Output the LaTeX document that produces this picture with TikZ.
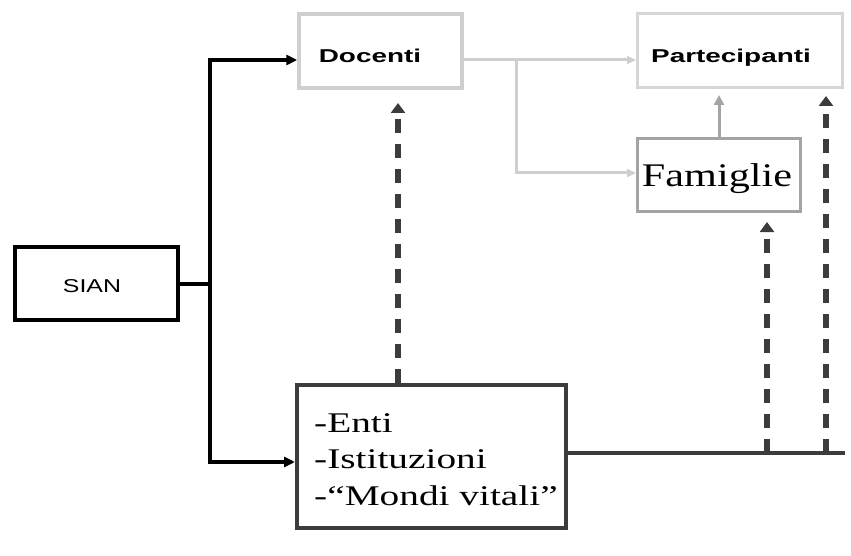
\documentclass[tikz,border=0pt]{standalone}
\usepackage{fontspec}
\usetikzlibrary{arrows.meta,calc}
\newfontfamily\wideBold[FakeStretch=1.5]{Liberation Sans Bold}
\newfontfamily\plainSans{Liberation Sans}
\newfontfamily\wideSerif[FakeStretch=1.38]{Liberation Serif}
\newfontfamily\famSerif[FakeStretch=1.28]{Liberation Serif}
\definecolor{paleline}{HTML}{CFCFCF}
\definecolor{midline}{HTML}{A4A4A4}
\definecolor{darkline}{HTML}{3C3C3C}
\tikzset{
  box/.style={draw, rectangle, inner sep=0pt, fill=white},
  txt/.style={inner sep=0pt, anchor=base},
  topbox/.style={box, draw=paleline, line width=3.5pt},
  topfont/.style={txt, font=\wideBold\fontsize{18.6}{22}\selectfont},
  fambox/.style={box, draw=midline, line width=3pt},
  famfont/.style={txt, font=\famSerif\fontsize{33}{38}\selectfont},
  sianbox/.style={box, draw=black, line width=4pt},
  sianfont/.style={txt, font=\plainSans\fontsize{18.6}{22}\selectfont},
  entibox/.style={box, draw=darkline, line width=4pt},
  entifont/.style={txt, anchor=base west, font=\wideSerif\fontsize{28.5}{37}\selectfont},
  feed/.style={draw=black, line width=3.5pt,
    -{Triangle[length=11pt,width=10pt]}},
  paleflow/.style={draw=paleline, line width=3pt,
    -{Triangle[length=9pt,width=8pt]}},
  midflow/.style={draw=midline, line width=3pt,
    -{Triangle[length=10pt,width=10pt]}},
  support/.style={draw=darkline, line width=5.5pt, dash pattern=on 14pt off 11pt,
    -{Triangle[length=10pt,width=14pt]}},
  baseline/.style={draw=darkline, line width=3.5pt},
}
\begin{document}
\begin{tikzpicture}[x=1pt,y=-1pt]
\useasboundingbox (0,0) rectangle (851,556);

% boxes
\node[topbox, minimum width=163, minimum height=74] (docenti) at (380.5,51) {};
\node[topbox, draw=paleline!85, line width=3pt, minimum width=205, minimum height=74] (partecipanti) at (740,50.5) {};
\node[fambox, minimum width=163, minimum height=73] (famiglie) at (719,175) {};
\node[sianbox, minimum width=163, minimum height=73] (sian) at (96.5,283.5) {};
\node[entibox, minimum width=269, minimum height=143] (enti) at (431.5,456.5) {};

% box texts
\node[topfont] (docentiT) at ($(docenti.center)+(-10.5,12)$) {Docenti};
\node[topfont] (partecipantiT) at ($(partecipanti.center)+(-9,12.5)$) {Partecipanti};
\node[famfont] (famiglieT) at ($(famiglie.center)+(-2,12)$) {Famiglie};
\node[sianfont] (sianT) at ($(sian.center)+(-4.5,8.5)$) {\scalebox{1.34}[1]{SIAN}};
\node[entifont] (entiA) at (314,432) {-Enti};
\node[entifont] (entiB) at (314,468) {-Istituzioni};
\node[entifont] (entiC) at (314,505) {-“Mondi vitali”};

% junction points
\coordinate (rowA) at (0,60);
\coordinate (rowF) at (0,173);
\coordinate (rowE) at (0,462);
\coordinate (trunk) at (210,284);
\coordinate (split) at (516,60);
\coordinate (lineEnd) at (845,453);
\coordinate (dashA) at (398,103);
\coordinate (dashF) at (767,222);
\coordinate (dashP) at (826,96);
\coordinate (footF) at (767,453);
\coordinate (footP) at (826,453);

% SIAN feeding Docenti and the Enti group
\draw[line width=3.5pt] (sian.east |- trunk) -- (trunk);
\draw[feed] (trunk) -- (trunk |- rowA) -- (docenti.west |- rowA);
\draw[feed] (trunk) -- (trunk |- rowE) -- (enti.west |- rowE);

% Docenti towards Partecipanti and Famiglie
\draw[draw=paleline, line width=3pt] (docenti.east |- rowA) -- (split);
\draw[paleflow] (split) -- (partecipanti.west |- rowA);
\draw[paleflow] (split) -- (split |- rowF) -- (famiglie.west |- rowF);
\draw[midflow] (famiglie.north) -- ($(partecipanti.south -| famiglie.north)+(0,6)$);

% Enti support line and dashed arrows
\draw[baseline] (enti.east |- lineEnd) -- (lineEnd);
\draw[support] (enti.north -| dashA) -- (dashA);
\draw[support] (footF) -- (dashF);
\draw[support] (footP) -- (dashP);
\end{tikzpicture}
\end{document}
